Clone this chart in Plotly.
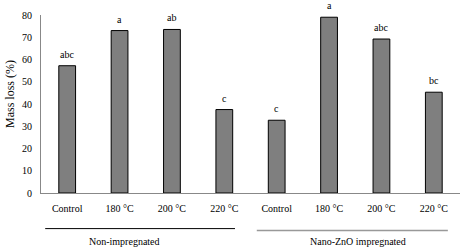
import plotly.graph_objects as go

categories = ["Control", "180 °C", "200 °C", "220 °C", "Control", "180 °C", "200 °C", "220 °C"]
mass_loss = [57.2, 73.0, 73.5, 37.5, 32.7, 79.0, 69.2, 45.3]
letters = ["abc", "a", "ab", "c", "c", "a", "abc", "bc"]
groups = ["Non-impregnated", "Nano-ZnO impregnated"]
y_ticks = [0, 10, 20, 30, 40, 50, 60, 70, 80]

xpos = list(range(len(categories)))
FONT = "Liberation Serif, Times New Roman, serif"

fig = go.Figure(go.Bar(
    x=xpos, y=mass_loss,
    marker=dict(color="#7f7f7f", line=dict(color="black", width=1)),
    width=0.32, hoverinfo="skip",
))

letter_annotations = [
    dict(x=x, y=v, text=t, xref="x", yref="y", showarrow=False,
         xanchor="center", yanchor="bottom", yshift=4)
    for x, v, t in zip(xpos, mass_loss, letters)
]

fig.update_layout(
    width=469, height=252,
    margin=dict(l=41, r=9, t=13, b=59),
    plot_bgcolor="white", paper_bgcolor="white",
    font=dict(family=FONT, size=10, color="black"),
    showlegend=False, hovermode=False,
    xaxis=dict(
        tickmode="array", tickvals=xpos, ticktext=categories,
        range=[-0.5, 7.5], showline=True, linecolor="#888888", linewidth=1,
        showgrid=False, zeroline=False, ticks="", ticklabelstandoff=6,
    ),
    yaxis=dict(
        range=[0, 80], tickvals=y_ticks, showline=True, linecolor="#888888",
        linewidth=1, showgrid=False, zeroline=False, ticks="",
        ticklabelstandoff=6,
    ),
    shapes=[
        dict(type="line", xref="paper", yref="paper", x0=0.01, x1=0.463,
             y0=-0.2, y1=-0.2, line=dict(color="black", width=1)),
        dict(type="line", xref="paper", yref="paper", x0=0.515, x1=0.971,
             y0=-0.211, y1=-0.211, line=dict(color="#999999", width=1.5)),
    ],
    annotations=letter_annotations + [
        dict(text="Mass loss (%)", xref="paper", yref="paper", x=-0.074,
             y=0.556, textangle=-90, showarrow=False, xanchor="center",
             yanchor="middle", font=dict(size=12)),
        dict(text=groups[0], xref="paper", yref="paper", x=0.20, y=-0.272,
             showarrow=False, xanchor="center", yanchor="middle"),
        dict(text=groups[1], xref="paper", yref="paper", x=0.757, y=-0.272,
             showarrow=False, xanchor="center", yanchor="middle"),
    ],
)

fig.write_html("out.html", config={"displayModeBar": False},
               post_script="document.body.style.margin='0';")
